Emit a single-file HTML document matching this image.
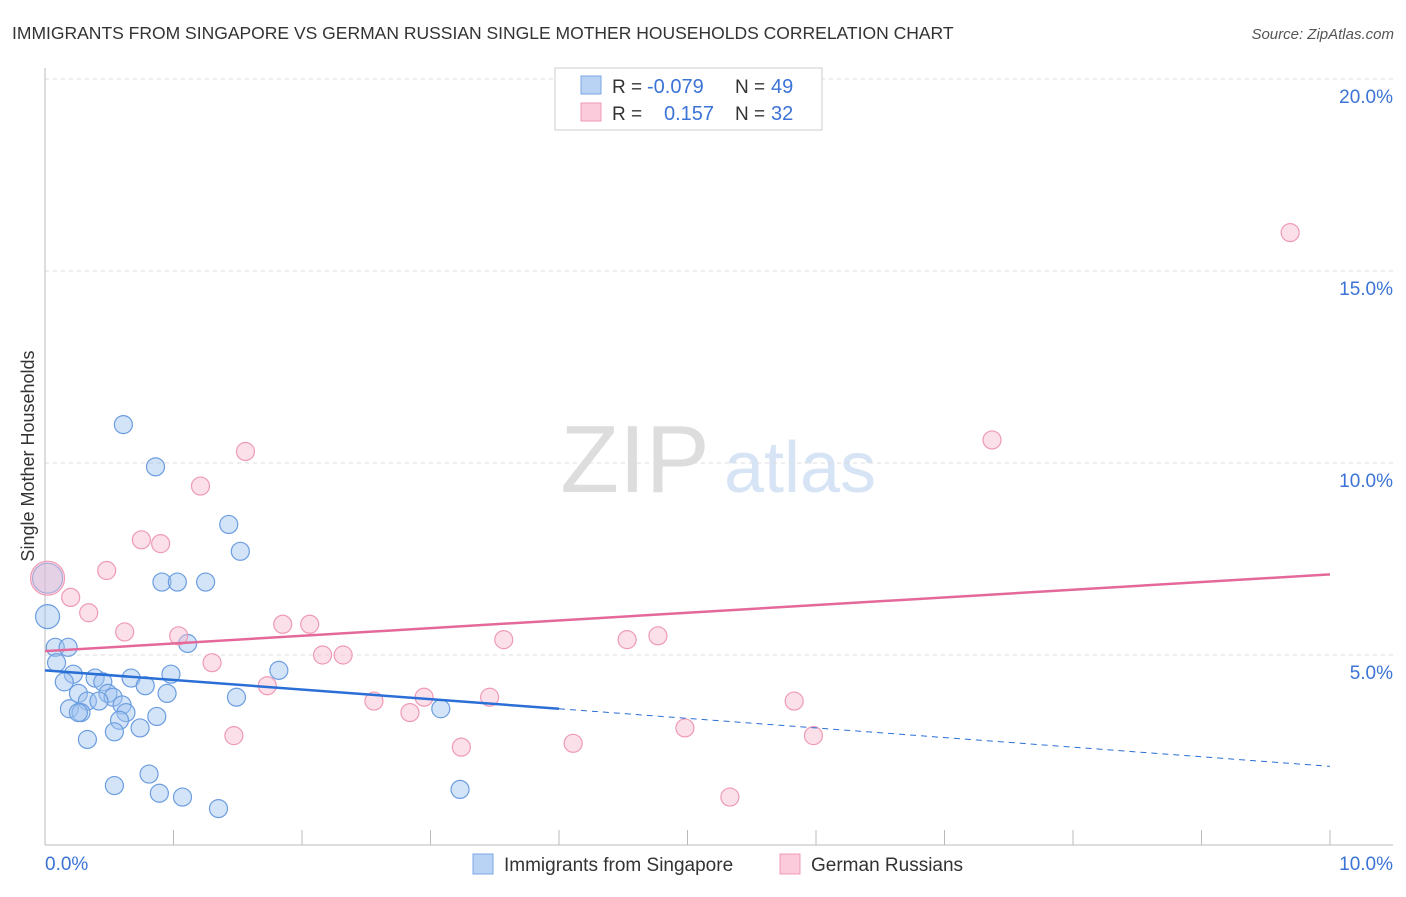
<!DOCTYPE html>
<html><head><meta charset="utf-8"><style>
body{margin:0;background:#fff;font-family:"Liberation Sans",sans-serif;}
svg text{font-family:"Liberation Sans",sans-serif;}
</style></head><body>
<svg width="1406" height="892" xmlns="http://www.w3.org/2000/svg">
<text x="12" y="39" font-size="17.5" fill="#333">IMMIGRANTS FROM SINGAPORE VS GERMAN RUSSIAN SINGLE MOTHER HOUSEHOLDS CORRELATION CHART</text>
<text x="1394" y="39" font-size="15" fill="#555" font-style="italic" text-anchor="end">Source: ZipAtlas.com</text>
<text x="635" y="492" font-size="96" fill="#ddd" font-family="Liberation Serif" text-anchor="middle">ZIP</text>
<text x="800" y="492" font-size="72" fill="#d6e4f5" text-anchor="middle">atlas</text>
<g id="grid"></g>
<line x1="45" y1="68" x2="45" y2="845" stroke="#bbb"/>
<line x1="45" y1="845" x2="1393" y2="845" stroke="#bbb"/>
<g id="ticks"></g>
<text x="34" y="456" font-size="18" fill="#333" text-anchor="middle" transform="rotate(-90 34 456)">Single Mother Households</text>
<g id="pts"></g>
<g id="trend"></g>
<g>
<rect x="555" y="68" width="267" height="62" fill="#fff" stroke="#ccc"/>
<rect x="581" y="76" width="20" height="18" fill="#b9d3f5" stroke="#7aa7e6"/>
<rect x="581" y="103" width="20" height="18" fill="#fbcadb" stroke="#ef9ab7"/>
<text x="612" y="93" font-size="19" fill="#333">R =</text>
<text x="647" y="93" font-size="20" fill="#3b73d6">-0.079</text>
<text x="735" y="93" font-size="19" fill="#333">N =</text>
<text x="771" y="93" font-size="20" fill="#3b73d6">49</text>
<text x="612" y="120" font-size="19" fill="#333">R =</text>
<text x="664" y="120" font-size="20" fill="#3b73d6">0.157</text>
<text x="735" y="120" font-size="19" fill="#333">N =</text>
<text x="771" y="120" font-size="20" fill="#3b73d6">32</text>
</g>
<g>
<rect x="473" y="854" width="20" height="20" fill="#b9d3f5" stroke="#7aa7e6"/>
<text x="504" y="871" font-size="19" fill="#333">Immigrants from Singapore</text>
<rect x="780" y="854" width="20" height="20" fill="#fbcadb" stroke="#ef9ab7"/>
<text x="811" y="871" font-size="19" fill="#333">German Russians</text>
</g>
</svg>
<script>
const yTicks=[5,10,15,20];
const yTickLabels=["5.0%","10.0%","15.0%","20.0%"];
const xTickLabels=["0.0%","10.0%"];
const blueX=[0.61,0.86,1.43,1.52,0.91,1.03,1.25,0.02,0.02,1.11,0.08,0.18,0.09,1.82,0.22,0.15,0.39,0.67,0.45,0.98,0.26,0.78,0.49,0.95,1.49,0.53,0.33,0.42,0.60,0.19,0.28,0.26,0.87,0.63,0.58,3.08,0.74,0.54,0.33,0.81,0.54,0.89,1.07,1.35,3.23];
const blueY=[11.0,9.9,8.4,7.7,6.9,6.9,6.9,7.0,6.0,5.3,5.2,5.2,4.8,4.6,4.5,4.3,4.4,4.4,4.3,4.5,4.0,4.2,4.0,4.0,3.9,3.9,3.8,3.8,3.7,3.6,3.5,3.5,3.4,3.5,3.3,3.6,3.1,3.0,2.8,1.9,1.6,1.4,1.3,1.0,1.5];
const blueR=[9,9,9,9,9,9,9,15,12,9,9,9,9,9,9,9,9,9,9,9,9,9,9,9,9,9,9,9,9,9,9,9,9,9,9,9,9,9,9,9,9,9,9,9,9];
const pinkX=[9.69,7.37,1.56,1.21,0.75,0.90,0.48,0.02,0.20,0.34,0.62,1.04,1.85,2.06,1.30,2.16,2.32,3.57,4.53,4.77,1.73,2.56,2.95,3.46,2.84,1.47,3.24,4.11,4.98,5.83,5.98,5.33];
const pinkY=[16.0,10.6,10.3,9.4,8.0,7.9,7.2,7.0,6.5,6.1,5.6,5.5,5.8,5.8,4.8,5.0,5.0,5.4,5.4,5.5,4.2,3.8,3.9,3.9,3.5,2.9,2.6,2.7,3.1,3.8,2.9,1.3];
const pinkR=[9,9,9,9,9,9,9,17,9,9,9,9,9,9,9,9,9,9,9,9,9,9,9,9,9,9,9,9,9,9,9,9];
const blueTrend=[[0,4.6],[4,3.6],[10,2.1]];
const pinkTrend=[[0,5.1],[10,7.1]];
const NS="http://www.w3.org/2000/svg";
const X0=45,X1=1330,Y0=847,Y1=79;
const sx=v=>X0+(v/10)*(X1-X0);
const sy=v=>Y0-(v/20)*(Y0-Y1);
function mk(tag,attrs,parent){const e=document.createElementNS(NS,tag);for(const k in attrs)e.setAttribute(k,attrs[k]);parent.appendChild(e);return e;}
const grid=document.getElementById('grid'),ticks=document.getElementById('ticks');
yTicks.forEach((t,i)=>{
 const l=mk('line',{x1:45,x2:1393,y1:sy(t),y2:sy(t),stroke:'#ddd','stroke-dasharray':'4,4'},grid);
 
 
 const tx=mk('text',{x:1393,y:sy(t)+24,'font-size':19,fill:'#3b73d6','text-anchor':'end'},ticks);
 tx.textContent=yTickLabels[i];
 
 
});
for(let i=0;i<=10;i++){
 const l=mk('line',{x1:sx(i),x2:sx(i),y1:830,y2:845,stroke:'#bbb'},ticks);
 
 
}
[[0,'start',45],[10,'end',1393]].forEach((d,i)=>{
 const tx=mk('text',{x:d[2],y:870,'font-size':19,fill:'#3b73d6','text-anchor':d[1]},ticks);
 tx.textContent=xTickLabels[i];
 
 
});
const pts=document.getElementById('pts');
function drawPts(xs,ys,rs,fill,stroke,name){
 xs.forEach((x,i)=>{
  const c=mk('circle',{cx:sx(x),cy:sy(ys[i]),r:rs[i],fill:fill,stroke:stroke,'stroke-width':1.2},pts);
  
  
 });
}
drawPts(blueX,blueY,blueR,'rgba(160,196,240,0.45)','#6b9de0','point-singapore');
drawPts(pinkX,pinkY,pinkR,'rgba(248,186,206,0.45)','#ee9ab6','point-german-russian');
const tr=document.getElementById('trend');
let l=mk('line',{x1:sx(blueTrend[0][0]),y1:sy(blueTrend[0][1]),x2:sx(blueTrend[1][0]),y2:sy(blueTrend[1][1]),stroke:'#2a6fd6','stroke-width':2.5},tr);


l=mk('line',{x1:sx(blueTrend[1][0]),y1:sy(blueTrend[1][1]),x2:sx(blueTrend[2][0]),y2:sy(blueTrend[2][1]),stroke:'#2a6fd6','stroke-width':1,'stroke-dasharray':'6,5'},tr);


l=mk('line',{x1:sx(pinkTrend[0][0]),y1:sy(pinkTrend[0][1]),x2:sx(pinkTrend[1][0]),y2:sy(pinkTrend[1][1]),stroke:'#e4699a','stroke-width':2.5},tr);


</script>
</body></html>
